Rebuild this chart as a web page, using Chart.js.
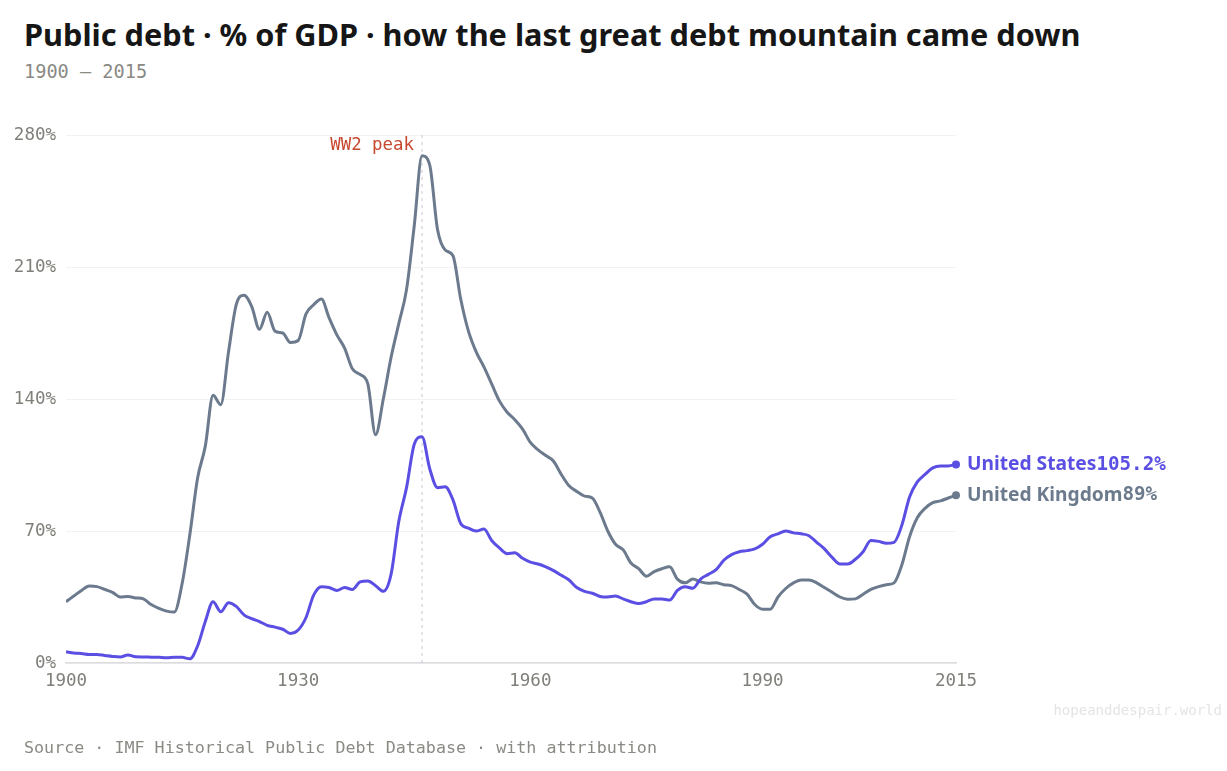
<!DOCTYPE html>
<html>
<head>
<meta charset="utf-8">
<script src="https://cdn.jsdelivr.net/npm/chart.js@4.4.1/dist/chart.umd.min.js"></script>
<style>
  html, body { margin: 0; padding: 0; background: #fff; }
  body { width: 1227px; height: 771px; position: relative; overflow: hidden; }
  #title { position: absolute; left: 24px; top: 13px; font: 700 30.7px "Noto Sans", sans-serif; color: #161616; white-space: nowrap; }
  #sub { position: absolute; left: 24px; top: 61px; font: 18.6px "DejaVu Sans Mono", monospace; color: #8a8a84; }
  #source { position: absolute; left: 24px; top: 737px; font: 16.7px "DejaVu Sans Mono", monospace; color: #8a8a84; }
  #wm { position: absolute; right: 5px; top: 702px; font: 14px "DejaVu Sans Mono", monospace; color: #e4e4e4; }
  #wrap { position: absolute; left: 0; top: 0; width: 1227px; height: 771px; }
</style>
</head>
<body>
<div id="title">Public debt · % of GDP · how the last great debt mountain came down</div>
<div id="sub">1900 — 2015</div>
<div id="wrap"><canvas id="chart"></canvas></div>
<div id="wm">hopeanddespair.world</div>
<div id="source">Source · IMF Historical Public Debt Database · with attribution</div>
<script>
// years 1900..2015, one value per year (% of GDP)
var years = [];
for (var y = 1900; y <= 2015; y++) years.push(y);

var ukDebt = [
  32.5, 35.5, 38.5, 40.8, 40.5, 39, 37.5, 35, 35.2, 34.5,
  34, 31, 29, 27.5, 27, 42, 68, 98, 115, 142,
  137, 165, 190, 195, 189, 177, 186, 176, 175, 170,
  171, 185, 190, 193, 183, 174, 167, 156, 153, 148,
  121, 140, 162, 180, 198, 232, 269, 264, 230, 219,
  216, 193, 176, 165, 157, 148, 139, 133, 129, 124,
  117, 113, 110, 107, 100, 94, 91, 88.5, 87.5, 80,
  70, 63, 60, 53, 50, 46, 48.5, 50, 51, 44.5,
  42.5, 44.5, 43, 42.3, 42.5, 41.5, 41, 39, 36.5, 31,
  28.5, 28.5, 35, 39.5, 42.5, 44, 44, 42.5, 40, 37.5,
  35, 33.8, 34, 36.5, 39, 40.5, 41.5, 42.5, 52, 67,
  77, 82, 85, 86, 87.5, 89
];

var usDebt = [
  6, 5.3, 5, 4.5, 4.5, 4, 3.5, 3.2, 4.2, 3.3,
  3.2, 3.1, 3, 2.8, 3, 3, 2.2, 9, 22, 32.5,
  27.2, 32, 30, 25.5, 23.5, 22, 20, 19, 17.9, 15.7,
  17.5, 24, 36, 40.5, 40, 38.5, 40, 39, 43, 43.5,
  41, 38, 47, 75, 93, 116, 120, 103, 93, 93.5,
  86.5, 74, 71.5, 70, 71, 65, 61, 58, 58.5, 55.5,
  53.5, 52.5, 51, 49, 46.5, 44, 40, 38, 37, 35.3,
  35, 35.5, 34, 32.5, 31.5, 32.5, 34, 34, 33.4, 38.5,
  40.5, 39.6, 44.5, 47, 49.5, 54.5, 57.5, 59, 59.6, 60.5,
  63, 67, 68.5, 70, 69, 68.5, 67.5, 64, 60.5, 56,
  52.5, 52.5, 55, 59, 65, 64.5, 63.5, 64, 73, 88,
  96, 100, 103.5, 104.5, 104.5, 105.2
];

var xTicks = [1900, 1930, 1960, 1990, 2015];
var yTicks = [0, 70, 140, 210, 280];
var peakYear = 1946;
var peakLabel = 'WW2 peak';

var US_COLOR = '#5b4fe3';
var UK_COLOR = '#6c7a8d';
var MONO = '"DejaVu Sans Mono", monospace';

function toXY(vals) {
  return vals.map(function (v, i) { return { x: years[i], y: v }; });
}

var seriesMeta = [
  { name: 'United States', value: '105.2%', color: US_COLOR },
  { name: 'United Kingdom', value: '89%', color: UK_COLOR }
];

// dotted marker at the WW2 peak
var peakLine = {
  id: 'peakLine',
  beforeDatasetsDraw: function (chart) {
    var ctx = chart.ctx, a = chart.chartArea;
    var px = chart.scales.x.getPixelForValue(peakYear);
    ctx.save();
    ctx.strokeStyle = '#c8c8d0';
    ctx.lineWidth = 1;
    ctx.setLineDash([3, 4]);
    ctx.beginPath();
    ctx.moveTo(px, a.top);
    ctx.lineTo(px, a.bottom);
    ctx.stroke();
    ctx.setLineDash([]);
    ctx.fillStyle = '#c8472f';
    ctx.font = '17.4px ' + MONO;
    ctx.textAlign = 'right';
    ctx.textBaseline = 'middle';
    ctx.fillText(peakLabel, px - 8, a.top + 10);
    ctx.restore();
  }
};

// labels at the line ends
var endLabels = {
  id: 'endLabels',
  afterDatasetsDraw: function (chart) {
    var ctx = chart.ctx;
    chart.data.datasets.forEach(function (ds, i) {
      var meta = chart.getDatasetMeta(i);
      var pt = meta.data[meta.data.length - 1];
      var m = seriesMeta[i];
      ctx.save();
      ctx.fillStyle = m.color;
      ctx.beginPath();
      ctx.arc(pt.x, pt.y, 4, 0, Math.PI * 2);
      ctx.fill();
      ctx.textBaseline = 'middle';
      ctx.textAlign = 'left';
      ctx.font = '700 19.2px "Noto Sans", sans-serif';
      var x = pt.x + 11;
      ctx.fillText(m.name, x, pt.y);
      x += ctx.measureText(m.name).width;
      ctx.font = '700 19.2px ' + MONO;
      ctx.fillText(m.value, x, pt.y);
      ctx.restore();
    });
  }
};

var ctx = document.getElementById('chart').getContext('2d');
var chart = new Chart(ctx, {
  type: 'line',
  data: {
    datasets: [{
      label: 'United States',
      data: toXY(usDebt),
      borderColor: US_COLOR,
      borderWidth: 3,
      pointRadius: 0,
      cubicInterpolationMode: 'monotone',
      fill: false
    }, {
      label: 'United Kingdom',
      data: toXY(ukDebt),
      borderColor: UK_COLOR,
      borderWidth: 3,
      pointRadius: 0,
      cubicInterpolationMode: 'monotone',
      fill: false
    }]
  },
  options: {
    responsive: true,
    maintainAspectRatio: false,
    animation: false,
    layout: { padding: { left: 0, right: 271, top: 135, bottom: 68 } },
    plugins: { legend: { display: false }, tooltip: { enabled: false } },
    scales: {
      x: {
        type: 'linear',
        min: 1900,
        max: 2015,
        afterBuildTicks: function (s) { s.ticks = xTicks.map(function (v) { return { value: v }; }); },
        afterFit: function (s) { s.height = 40; },
        grid: { display: false, drawTicks: false },
        border: { display: true, color: '#dcdce0', width: 1.5 },
        ticks: {
          color: '#80807a',
          font: { family: MONO, size: 17.5 },
          padding: 8,
          maxRotation: 0,
          callback: function (v) { return String(v); }
        }
      },
      y: {
        min: 0,
        max: 280,
        afterBuildTicks: function (s) { s.ticks = yTicks.map(function (v) { return { value: v }; }); },
        afterFit: function (s) { s.width = 66; },
        grid: { color: '#f2f2f2', drawTicks: false },
        border: { display: false },
        ticks: {
          color: '#80807a',
          font: { family: MONO, size: 17.5 },
          padding: 10,
          callback: function (v) { return v + '%'; }
        }
      }
    }
  },
  plugins: [peakLine, endLabels]
});
</script>
</body>
</html>
